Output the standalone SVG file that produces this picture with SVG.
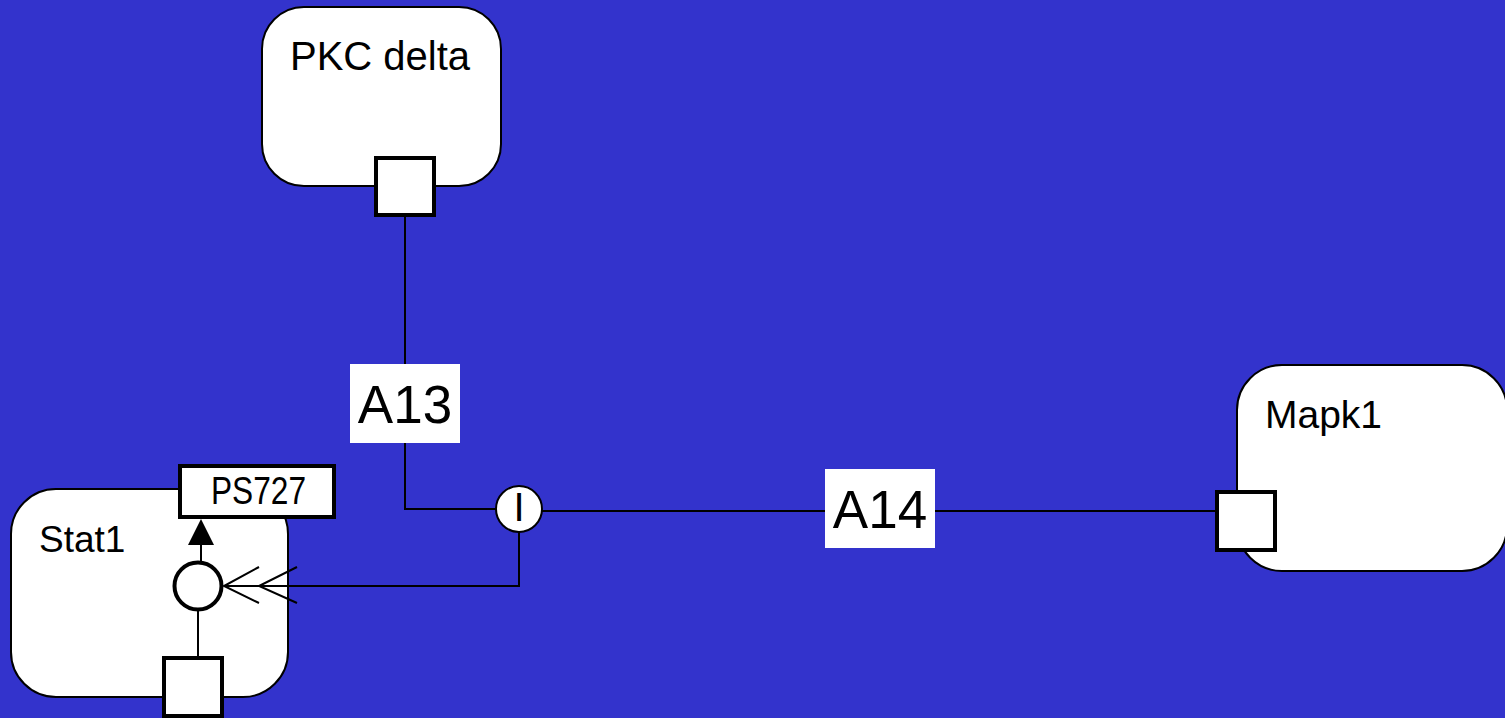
<svg xmlns="http://www.w3.org/2000/svg" width="1505" height="718" viewBox="0 0 1505 718">
<style>
.node{fill:#ffffff;stroke:#000000;stroke-width:2}
.port{fill:#ffffff;stroke:#000000;stroke-width:4}
.lbl{font-family:"Liberation Sans",Arial,sans-serif;fill:#000000}
.line{fill:none;stroke:#000000;stroke-width:2}
.edgelbl{fill:#ffffff;stroke:none}
</style>
<rect x="0" y="0" width="1505" height="718" fill="#3333cc"/>
<g id="node-pkcdelta">
  <rect class="node" x="262" y="7" width="239" height="179" rx="42" ry="42"/>
  <text class="lbl" x="290" y="70" font-size="40">PKC delta</text>
  <rect class="port" x="376" y="158" width="58" height="57"/>
</g>
<g id="node-mapk1">
  <rect class="node" x="1237" y="365" width="270" height="206" rx="45" ry="45"/>
  <text class="lbl" x="1265" y="428" font-size="39">Mapk1</text>
  <rect class="port" x="1217" y="492" width="58" height="58"/>
</g>
<g id="node-stat1">
  <rect class="node" x="11" y="489" width="277" height="208" rx="45" ry="45"/>
  <text class="lbl" x="39" y="552" font-size="37">Stat1</text>
</g>
<g id="connectors">
  <polyline class="line" points="405,217 405,509 496,509"/>
  <line class="line" x1="542" y1="511" x2="1216" y2="511"/>
  <polyline class="line" points="519,532 519,586 224,586"/>
  <polyline class="line" points="259,567 224,586 259,603"/>
  <polyline class="line" points="297,567 259,586 297,603"/>
  <line class="line" x1="201" y1="544" x2="201" y2="563"/>
  <line class="line" x1="198" y1="609" x2="198" y2="657"/>
  <g id="label-A13">
    <rect class="edgelbl" x="350" y="364" width="110" height="79"/>
    <text class="lbl" x="405" y="423" font-size="53" text-anchor="middle">A13</text>
  </g>
  <g id="label-A14">
    <rect class="edgelbl" x="825" y="469" width="110" height="79"/>
    <text class="lbl" x="880" y="528" font-size="53" text-anchor="middle">A14</text>
  </g>
</g>
<g id="node-stat1-parts">
  <rect class="port" x="180" y="466" width="154" height="51"/>
  <text class="lbl" x="211" y="504" font-size="39" textLength="95" lengthAdjust="spacingAndGlyphs">PS727</text>
  <polygon points="201,519 188,545 214,545" fill="#000000"/>
  <circle class="port" cx="198" cy="586" r="23.5"/>
  <rect class="port" x="164" y="658" width="58" height="58"/>
</g>
<g id="node-I">
  <circle class="node" cx="519" cy="509" r="23"/>
  <text class="lbl" x="519" y="521" font-size="40" text-anchor="middle">I</text>
</g>
</svg>
